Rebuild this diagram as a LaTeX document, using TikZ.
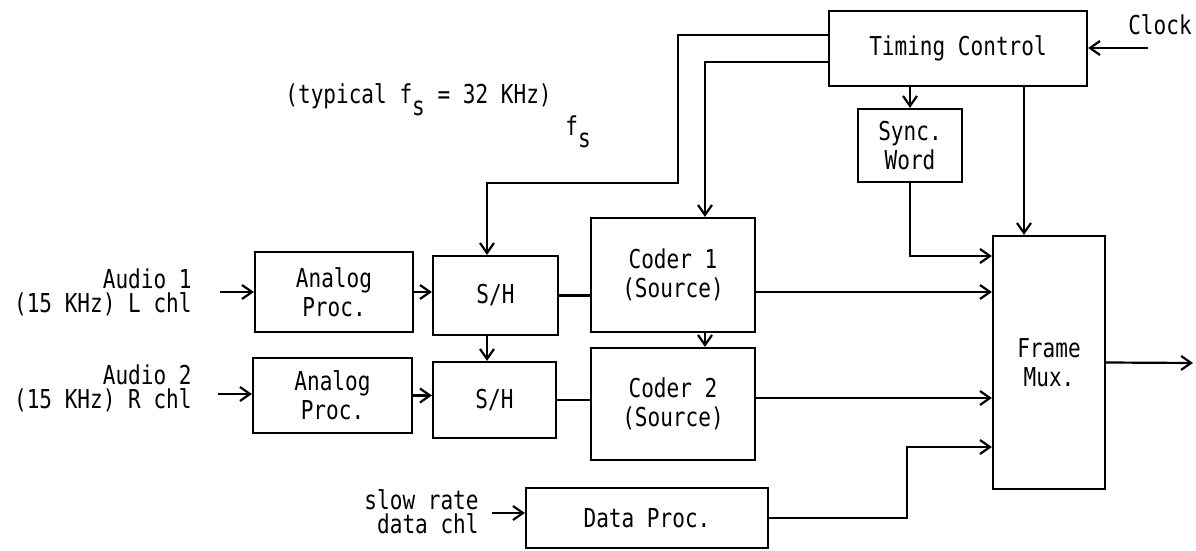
\documentclass[tikz,border=0pt]{standalone}
\usepackage{fontspec}
\setmonofont[FakeStretch=0.81]{DejaVu Sans Mono}
\usetikzlibrary{arrows.meta}

\begin{document}
\begin{tikzpicture}[
    x=0.5pt, y=-0.5pt,
    font=\ttfamily\fontsize{13}{14.5}\selectfont,
    box/.style={draw, line width=1.1pt, inner sep=0pt, align=center},
    lbl/.style={inner sep=0pt, align=right, font=\ttfamily\fontsize{13}{12}\selectfont},
    wire/.style={line width=1.1pt},
    arr/.style={wire, -{Straight Barb[length=5pt,width=7pt]}}
]
\useasboundingbox (0,0) rectangle (1196,551);

% Timing blocks along the top
\node[box, minimum width=129pt, minimum height=37.5pt] (tc) at (958,48.5) {Timing Control};
\node[box, minimum width=52pt, minimum height=36.5pt] (sync) at (910,145.5) {Sync.\\Word};

% Two audio channels
\node[box, minimum width=79pt, minimum height=40pt] (ap1) at (334,292) {Analog\\Proc.};
\node[box, minimum width=79.5pt, minimum height=37.5pt] (ap2) at (332.5,395.5) {Analog\\Proc.};
\node[box, minimum width=62.5pt, minimum height=39.5pt] (sh1) at (495.5,295.5) {S/H};
\node[box, minimum width=61.5pt, minimum height=38pt] (sh2) at (494.5,400) {S/H};
\node[box, minimum width=82pt, minimum height=57pt] (cod1) at (673,275) {Coder 1\\(Source)};
\node[box, minimum width=82pt, minimum height=56pt] (cod2) at (673,404) {Coder 2\\(Source)};

% Data channel and multiplexer
\node[box, minimum width=121pt, minimum height=30pt] (dp) at (647,518) {Data Proc.};
\node[box, minimum width=56pt, minimum height=126.5pt] (mux) at (1049,362.5) {Frame\\Mux.};

% Labels
\node[lbl, anchor=east] (a1) at (192,292) {Audio 1\\(15 KHz) L chl};
\node[lbl, anchor=east] (a2) at (192,388) {Audio 2\\(15 KHz) R chl};
\node[lbl, anchor=east] (slow) at (479,512) {slow rate\\data chl};
\node[inner sep=0pt] (clk) at (1160,25) {Clock};
\node[inner sep=0pt, anchor=base west] (typ) at (285,104) {(typical f\raisebox{-6pt}{s} = 32 KHz)};
\node[inner sep=0pt, anchor=base west] (fs) at (565,136) {f\raisebox{-6pt}{s}};

\coordinate (a1in) at (220,292);
\coordinate (a2in) at (218,394);
\coordinate (dpin) at (492,513);
\coordinate (clkin) at (1148,48);
\coordinate (out) at (1193,363);

% Inputs
\draw[arr] (a1in) -- (a1in -| ap1.west);
\draw[arr] (a2in) -- (a2in -| ap2.west);
\draw[arr] (dpin) -- (dpin -| dp.west);
\draw[arr] (clkin) -- (clkin -| tc.east);

% Audio chains
\draw[arr] (ap1.east) -- (ap1.east -| sh1.west);
\draw[arr] (ap2.east) -- (ap2.east -| sh2.west);
\draw[wire] (sh1.east) -- (sh1.east -| cod1.west);
\draw[wire] (sh2.east) -- (sh2.east -| cod2.west);
\draw[arr] ([xshift=-4.25pt]sh1.south) -- ([xshift=-4.25pt]sh1.south |- sh2.north);
\draw[arr] ([xshift=16pt]cod1.south) -- ([xshift=16pt]cod2.north);

% Timing lines
\draw[arr] ([yshift=6.75pt]tc.west) -| (678,183) -| ([xshift=-4.25pt]sh1.north);
\draw[arr] ([yshift=-6.75pt]tc.west) -| ([xshift=16pt]cod1.north);
\draw[arr] (sync.north |- tc.south) -- (sync.north);
\draw[arr] ([xshift=-12.5pt]mux.north |- tc.south) -- ([xshift=-12.5pt]mux.north);

% Into the multiplexer
\draw[arr] (sync.south) |- ([yshift=53.25pt]mux.west);
\draw[arr] ([yshift=-8.5pt]cod1.east) -- ([yshift=-8.5pt]cod1.east -| mux.west);
\draw[arr] ([yshift=3pt]cod2.east) -- ([yshift=3pt]cod2.east -| mux.west);
\draw[arr] (dp.east) -- ++(138,0) |- ([yshift=-42.25pt]mux.west);
\draw[arr] (mux.east) -- (out);
\end{tikzpicture}
\end{document}
